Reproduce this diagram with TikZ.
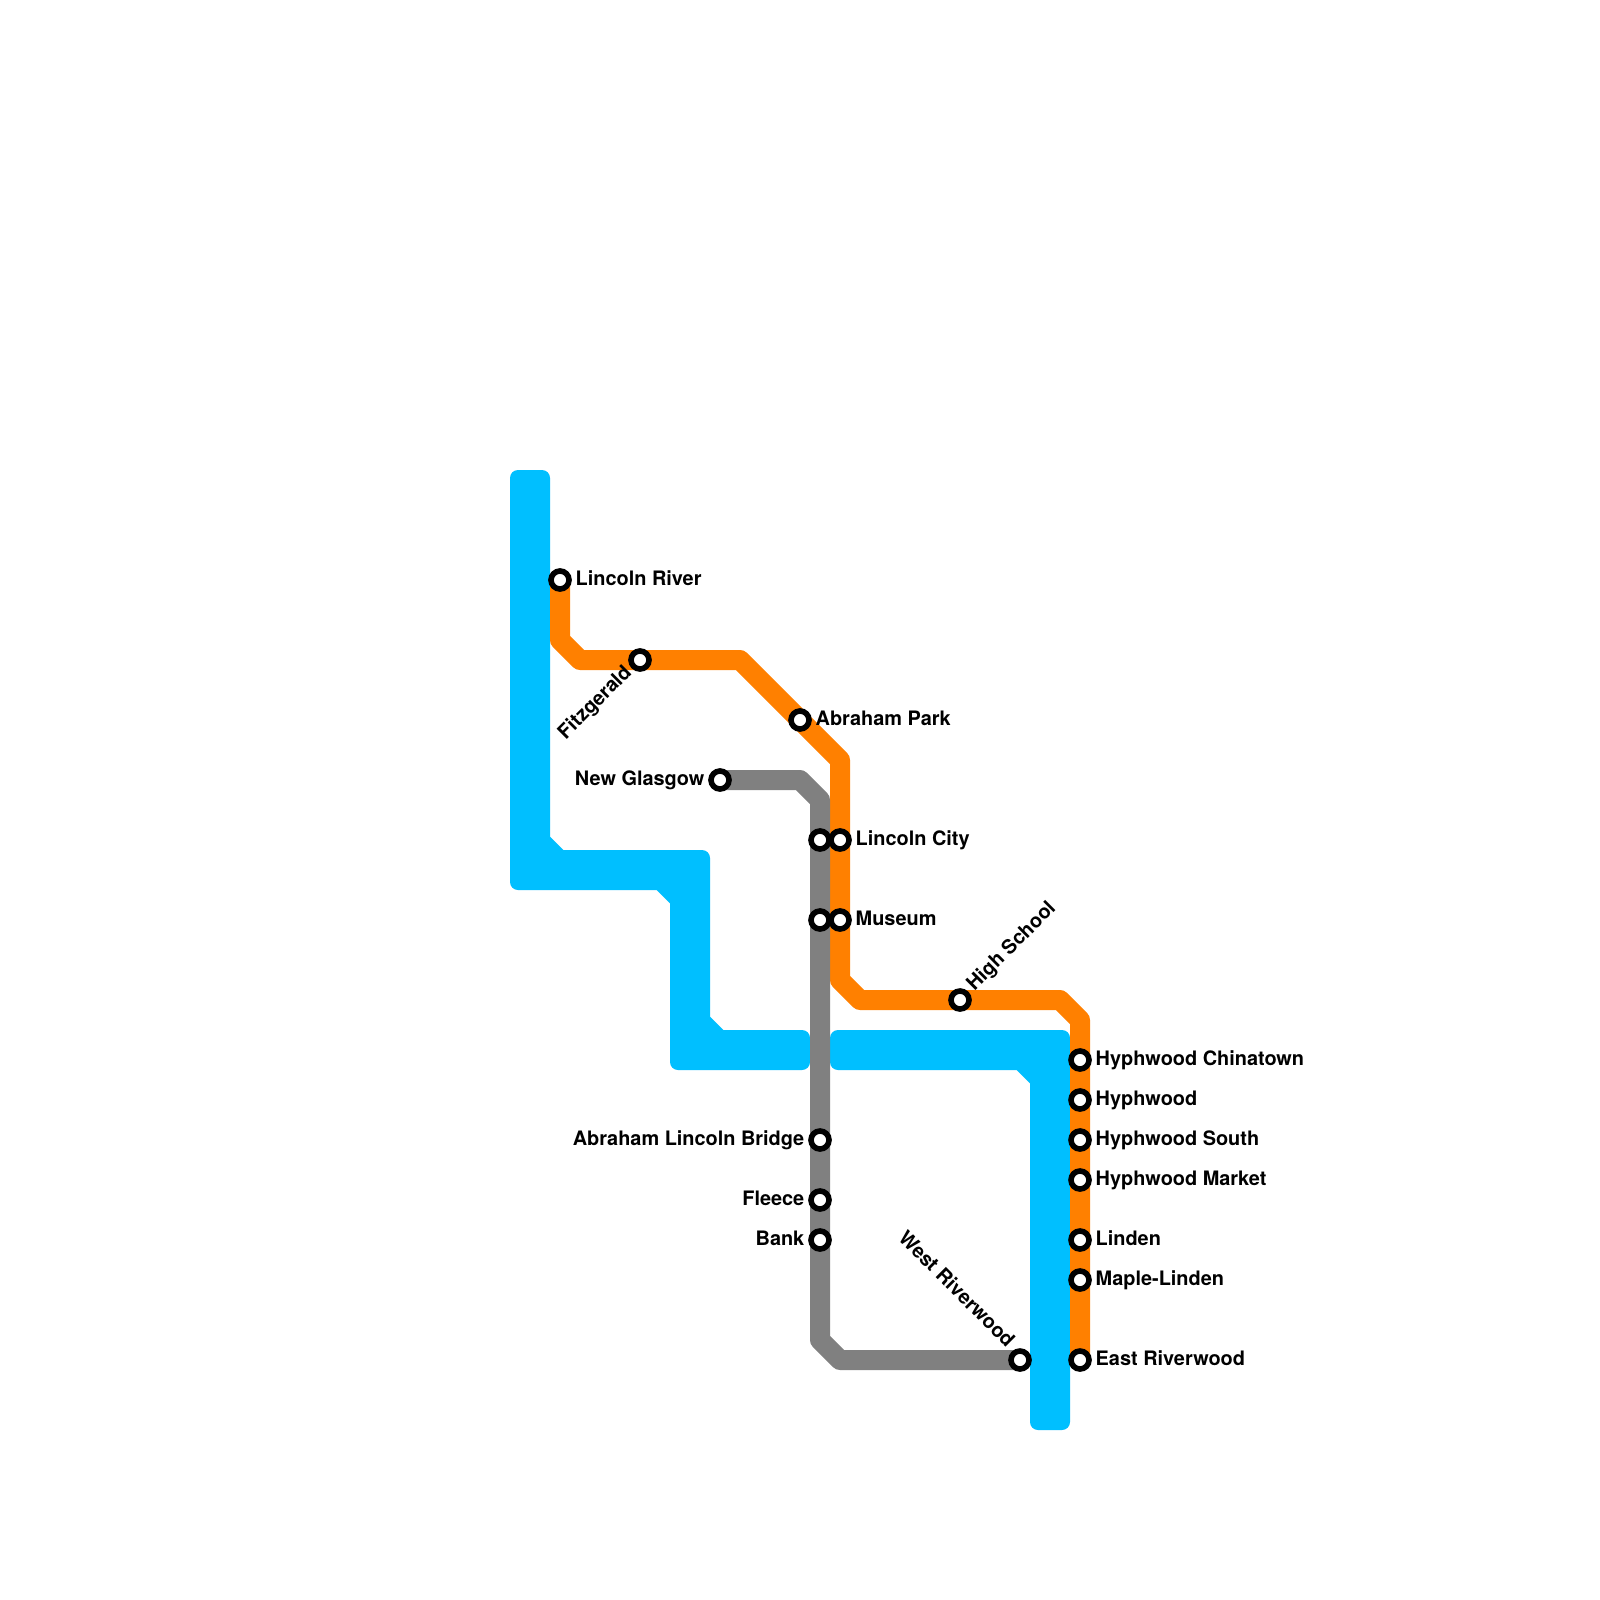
\documentclass[tikz,border=0pt]{standalone}
\usepackage{xcolor}
\usepackage{fontspec}
\usepackage{tikz}
\setmainfont{TeX Gyre Heros}
\definecolor{lineblue}{RGB}{0, 191, 255}
\definecolor{lineorange}{RGB}{255, 128, 0}
\definecolor{linegray}{RGB}{128, 128, 128}
\tikzstyle{route} = [
    line width=0.2cm,
    line join=round
]
\tikzstyle{stop} = [
    circle,
    draw=black,
    fill=white,
    line width=0.056cm,
    minimum size=0.18cm,
    inner sep=0pt
]
\tikzstyle{stoplabel} = [
    inner sep=0pt,
    font=\bfseries\fontsize{5.66}{6.8}\selectfont
]

\begin{document}
\begin{tikzpicture}[x=0.01cm, y=-0.01cm]
        % Page
        \useasboundingbox (0, 0) rectangle (1600, 1600);
        \fill[white] (0, 0) rectangle (1600, 1600);

        % Blue line, west part
        \fill[lineblue] (530, 470) [rounded corners=0.08cm] -- (550, 470) [sharp corners] -- (550, 836.7) -- (563.3, 850) [rounded corners=0.08cm] -- (710, 850) [sharp corners] -- (710, 1016.7) -- (723.3, 1030) [rounded corners=0.08cm] -- (810, 1030) -- (810, 1070) -- (670, 1070) [sharp corners] -- (670, 903.3) -- (656.7, 890) [rounded corners=0.08cm] -- (510, 890) -- (510, 470) -- (530, 470);

        % Blue line, east part
        \fill[lineblue] (950, 1030) [rounded corners=0.08cm] -- (1070, 1030) -- (1070, 1430) -- (1030, 1430) [sharp corners] -- (1030, 1083.3) -- (1016.7, 1070) [rounded corners=0.08cm] -- (830, 1070) -- (830, 1030) -- (950, 1030);

        % Orange line
        \draw[route, lineorange] (560, 580) -- (560, 640) -- (580, 660) -- (740, 660) -- (840, 760) -- (840, 980) -- (860, 1000) -- (1060, 1000) -- (1080, 1020) -- (1080, 1360);

        % Gray line
        \draw[route, linegray] (720, 780) -- (800, 780) -- (820, 800) -- (820, 1340) -- (840, 1360) -- (1020, 1360);

        % Stops on the orange line
        \node[stop] (lincolnriver) at (560, 580) {};
        \node[stop] (fitzgerald) at (640, 660) {};
        \node[stop] (abrahampark) at (800, 720) {};
        \node[stop] (lincolncity) at (840, 840) {};
        \node[stop] (museum) at (840, 920) {};
        \node[stop] (highschool) at (960, 1000) {};
        \node[stop] (chinatown) at (1080, 1060) {};
        \node[stop] (hyphwood) at (1080, 1100) {};
        \node[stop] (hyphsouth) at (1080, 1140) {};
        \node[stop] (hyphmarket) at (1080, 1180) {};
        \node[stop] (linden) at (1080, 1240) {};
        \node[stop] (maplelinden) at (1080, 1280) {};
        \node[stop] (eastriver) at (1080, 1360) {};

        % Stops on the gray line
        \node[stop] (newglasgow) at (720, 780) {};
        \node[stop] (graycity) at (820, 840) {};
        \node[stop] (graymuseum) at (820, 920) {};
        \node[stop] (ablincoln) at (820, 1140) {};
        \node[stop] (fleece) at (820, 1200) {};
        \node[stop] (bank) at (820, 1240) {};
        \node[stop] (westriver) at (1020, 1360) {};

        % Labels to the right
        \node[stoplabel, anchor=base west] (lbllincolnriver) at (575, 585) {Lincoln River};
        \node[stoplabel, anchor=base west] (lblabrahampark) at (815, 725) {Abraham Park};
        \node[stoplabel, anchor=base west] (lbllincolncity) at (855, 845) {Lincoln City};
        \node[stoplabel, anchor=base west] (lblmuseum) at (855, 925) {Museum};
        \node[stoplabel, anchor=base west] (lblchinatown) at (1095, 1065) {Hyphwood Chinatown};
        \node[stoplabel, anchor=base west] (lblhyphwood) at (1095, 1105) {Hyphwood};
        \node[stoplabel, anchor=base west] (lblhyphsouth) at (1095, 1145) {Hyphwood South};
        \node[stoplabel, anchor=base west] (lblhyphmarket) at (1095, 1185) {Hyphwood Market};
        \node[stoplabel, anchor=base west] (lbllinden) at (1095, 1245) {Linden};
        \node[stoplabel, anchor=base west] (lblmaplelinden) at (1095, 1285) {Maple-Linden};
        \node[stoplabel, anchor=base west] (lbleastriver) at (1095, 1365) {East Riverwood};

        % Labels to the left
        \node[stoplabel, anchor=base east] (lblnewglasgow) at (705, 785) {New Glasgow};
        \node[stoplabel, anchor=base east] (lblablincoln) at (805, 1145) {Abraham Lincoln Bridge};
        \node[stoplabel, anchor=base east] (lblfleece) at (805, 1205) {Fleece};
        \node[stoplabel, anchor=base east] (lblbank) at (805, 1245) {Bank};

        % Slanted labels
        \node[stoplabel, anchor=base east, rotate=45] (lblfitzgerald) at (633, 673) {Fitzgerald};
        \node[stoplabel, anchor=base west, rotate=45] (lblhighschool) at (974, 992) {High School};
        \node[stoplabel, anchor=base east, rotate=-45] (lblwestriver) at (1007, 1349) {West Riverwood};
\end{tikzpicture}
\end{document}
